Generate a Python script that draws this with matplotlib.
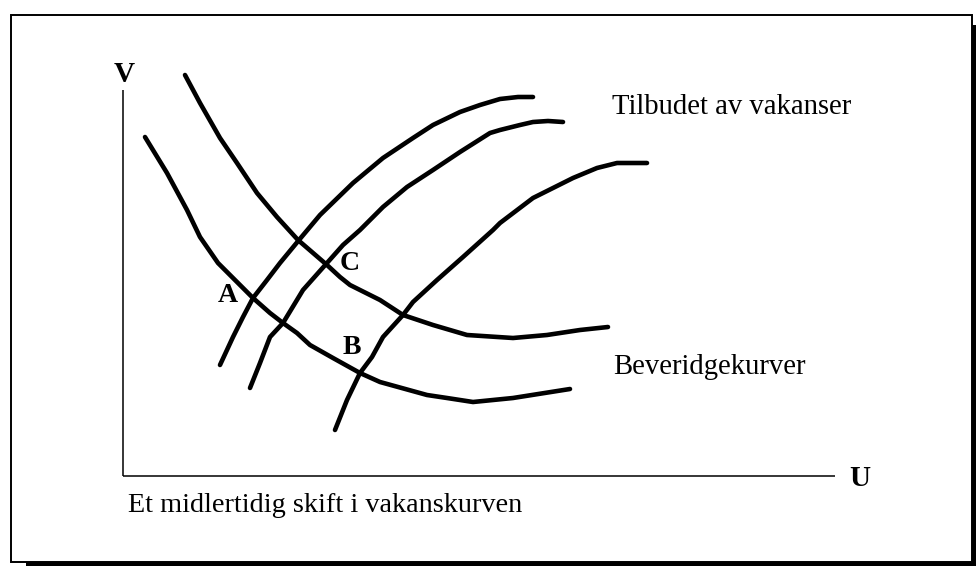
import matplotlib
matplotlib.use("Agg")
import matplotlib.pyplot as plt
from matplotlib.patches import Rectangle

# Chart units: U to the right of the V axis, V above the U axis
beveridge_1_u = [22, 44, 64, 77, 95, 114, 130, 147, 160, 174, 187, 210, 237, 257, 304, 324, 350, 390, 447]
beveridge_1_v = [339, 303, 266, 239, 213, 194, 178, 163, 153, 143, 131, 118, 103, 94, 81, 78, 74, 78, 87]
beveridge_2_u = [62, 77, 97, 114, 134, 154, 175, 204, 217, 227, 257, 280, 310, 344, 390, 424, 457, 485]
beveridge_2_v = [401, 373, 338, 313, 283, 259, 236, 211, 199, 191, 176, 161, 151, 141, 138, 141, 146, 149]

vacancy_1_u = [97, 110, 120, 130, 144, 157, 176, 197, 230, 260, 290, 310, 337, 357, 377, 395, 410]
vacancy_1_v = [111, 139, 159, 178, 196, 213, 236, 261, 293, 318, 338, 351, 364, 371, 377, 379, 379]
vacancy_2_u = [127, 137, 147, 160, 180, 204, 220, 237, 260, 284, 310, 337, 367, 377, 397, 410, 425, 440]
vacancy_2_v = [88, 113, 139, 153, 186, 213, 231, 246, 269, 289, 306, 324, 343, 346, 351, 354, 355, 354]
vacancy_3_u = [212, 224, 237, 249, 260, 280, 290, 314, 340, 370, 377, 410, 430, 450, 474, 494, 524]
vacancy_3_v = [46, 76, 103, 119, 139, 161, 174, 196, 219, 246, 253, 278, 288, 298, 308, 313, 313]

axis_v_top = 386
axis_u_end = 712

labels = {"A": (105, 181), "B": (229, 128), "C": (227, 212)}
curve_texts = {"Tilbudet av vakanser": (489, 369), "Beveridgekurver": (490, 109)}
caption = "Et midlertidig skift i vakanskurven"

fig = plt.figure(figsize=(9.76, 5.66), dpi=100)
ax = fig.add_axes([0, 0, 1, 1])
ax.set_xlim(-123, 853)
ax.set_ylim(-90, 476)
ax.axis("off")

serif = ["Liberation Serif", "DejaVu Serif"]

# frame with shadow (figure pixel coordinates)
W, H = 976, 566
fig.patches.append(Rectangle((11 / W, (H - 562) / H), (972 - 11) / W, (562 - 15) / H,
                             transform=fig.transFigure, fill=False, edgecolor="black", lw=1.4))
fig.patches.append(Rectangle((972 / W, 0), 4 / W, (H - 25) / H, transform=fig.transFigure,
                             facecolor="black", edgecolor="none"))
fig.patches.append(Rectangle((26 / W, 0), (W - 26) / W, 4 / H, transform=fig.transFigure,
                             facecolor="black", edgecolor="none"))

# axes
ax.plot([0, 0], [0, axis_v_top], color="black", lw=1.1, solid_capstyle="butt")
ax.plot([0, axis_u_end], [0, 0], color="black", lw=1.1, solid_capstyle="butt")
ax.text(1, 402, "V", fontsize=21, fontweight="bold", family=serif, ha="center", va="center")
ax.text(737, -3, "U", fontsize=21, fontweight="bold", family=serif, ha="center", va="center")

for u, v in [(beveridge_1_u, beveridge_1_v), (beveridge_2_u, beveridge_2_v),
             (vacancy_1_u, vacancy_1_v), (vacancy_2_u, vacancy_2_v), (vacancy_3_u, vacancy_3_v)]:
    ax.plot(u, v, color="black", lw=3.3, solid_capstyle="round", solid_joinstyle="round")

for name, (x, y) in labels.items():
    ax.text(x, y, name, fontsize=20, fontweight="bold", family=serif, ha="center", va="center")

for name, (x, y) in curve_texts.items():
    ax.text(x, y, name, fontsize=20.6, family=serif, ha="left", va="center")

ax.text(5, -29, caption, fontsize=20.3, family=serif, ha="left", va="center")

fig.savefig("out.png", dpi=100)
